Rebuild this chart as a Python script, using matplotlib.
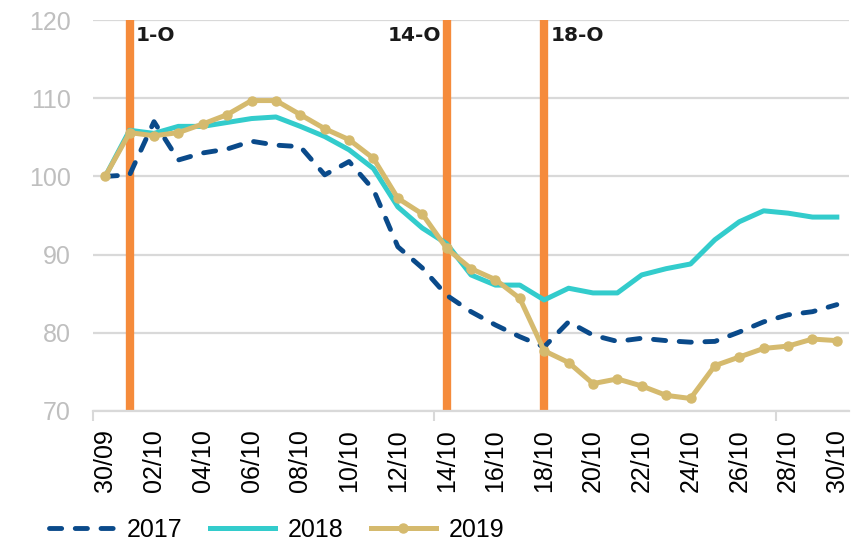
import matplotlib.pyplot as plt

plt.rcParams['font.family'] = ['Liberation Sans', 'DejaVu Sans']

dates = ['30/09', '01/10', '02/10', '03/10', '04/10', '05/10', '06/10', '07/10',
         '08/10', '09/10', '10/10', '11/10', '12/10', '13/10', '14/10', '15/10',
         '16/10', '17/10', '18/10', '19/10', '20/10', '21/10', '22/10', '23/10',
         '24/10', '25/10', '26/10', '27/10', '28/10', '29/10', '30/10']

y2017 = [100.0, 100.2, 107.0, 102.1, 103.0, 103.5, 104.5, 104.0, 103.8, 100.2,
         101.9, 98.3, 91.0, 88.3, 84.8, 82.7, 81.0, 79.5, 78.2, 81.4,
         79.7, 78.9, 79.3, 79.0, 78.8, 78.9, 80.1, 81.4, 82.3, 82.7, 83.6]

y2018 = [100.0, 105.9, 105.5, 106.4, 106.4, 106.9, 107.4, 107.6, 106.4, 105.1,
         103.4, 101.0, 96.1, 93.4, 91.4, 87.4, 86.1, 86.1, 84.2, 85.7,
         85.1, 85.1, 87.4, 88.2, 88.8, 91.9, 94.2, 95.6, 95.3, 94.8, 94.8]

y2019 = [100.0, 105.6, 105.2, 105.6, 106.7, 107.9, 109.7, 109.7, 107.9, 106.1,
         104.7, 102.3, 97.2, 95.2, 90.8, 88.2, 86.8, 84.4, 77.7, 76.2,
         73.5, 74.1, 73.2, 72.0, 71.6, 75.8, 76.9, 78.0, 78.3, 79.2, 79.0]

events = ['01/10', '14/10', '18/10']
event_labels = ['1-O', '14-O', '18-O']

x = list(range(len(dates)))

fig = plt.figure(figsize=(8.52, 5.44), dpi=100)
ax = fig.add_axes([0.1092, 0.2445, 0.8873, 0.7187])

# event markers
for d, lab in zip(events, event_labels):
    i = dates.index(d)
    ax.axvline(i, color='#F58B3B', lw=6, zorder=2)
    off, ha = (-4, 'right') if lab == '14-O' else (4.5, 'left')
    ax.annotate(lab, xy=(i, 118.0), xytext=(off, 0), textcoords='offset points',
                ha=ha, va='center', fontsize=14.5, fontweight='bold',
                family=['DejaVu Sans'], color='#1a1a1a')

ax.plot(x, y2017, color='#0A4A8A', lw=3.5, dashes=(2.5, 2.8),
        dash_capstyle='round', label='2017', zorder=4)
ax.plot(x, y2018, color='#33CCCC', lw=3.6, label='2018', zorder=3)
ax.plot(x, y2019, color='#D5BA6E', lw=3.6, marker='o', ms=6.5,
        label='2019', zorder=5)

ax.set_xlim(-0.5, len(dates) - 0.5)
ax.set_ylim(70, 120)
ax.set_yticks([70, 80, 90, 100, 110, 120])
ax.set_xticks(x[::2])
ax.set_xticklabels(dates[::2], rotation=90, fontsize=18)
ax.set_xticks([-0.5, 13.5, 27.5], minor=True)
ax.tick_params(axis='x', which='major', length=0, pad=13, colors='black')
ax.tick_params(axis='x', which='minor', length=7, width=1.5, color='#d9d9d9')
ax.tick_params(axis='y', length=0, pad=16, labelsize=18, labelcolor='#bfbfbf')

ax.grid(axis='y', color='#d9d9d9', lw=1.6, zorder=0)
ax.set_axisbelow(True)
for s in ['top', 'right', 'left']:
    ax.spines[s].set_visible(False)
ax.spines['bottom'].set_color('#d9d9d9')
ax.spines['bottom'].set_linewidth(1.6)

fig.legend(loc='center left', bbox_to_anchor=(0.058, 0.026), ncol=3, frameon=False,
           fontsize=18, handlelength=2.6, handletextpad=0.5, columnspacing=1.1,
           borderpad=0, borderaxespad=0)

fig.savefig('out.png', dpi=100)
